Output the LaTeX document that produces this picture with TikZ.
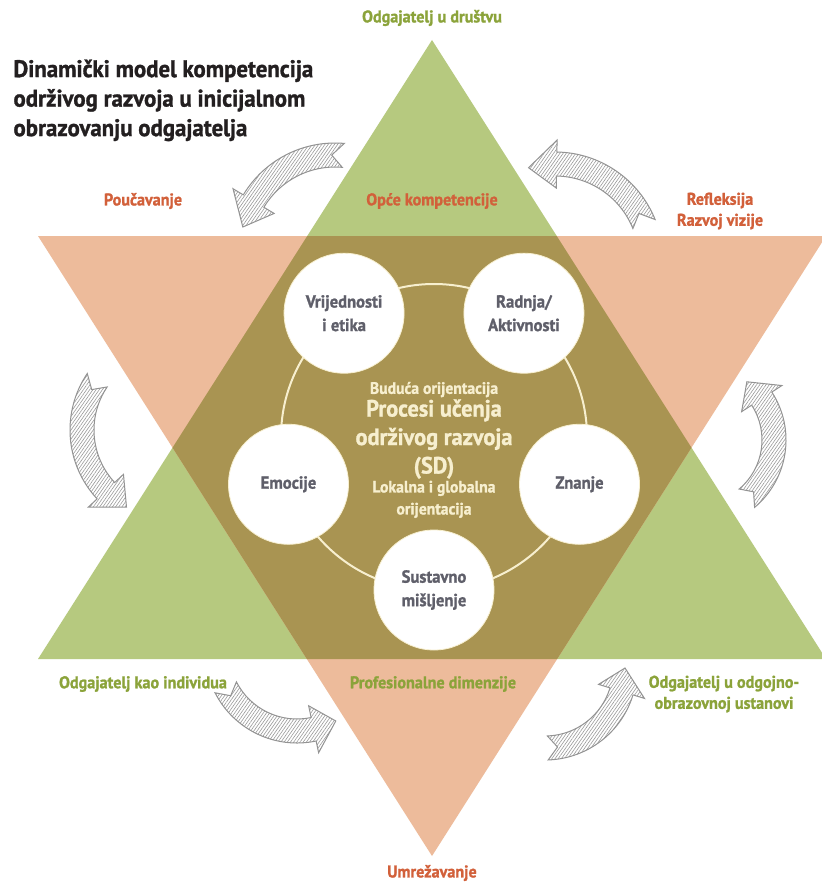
\documentclass[tikz,border=0pt]{standalone}
\usepackage{fontspec}
\setmainfont{PT Sans}[BoldFont={PT Sans Bold}, FakeStretch=0.95, BoldFeatures={FakeBold=1.2}]
\usetikzlibrary{positioning,patterns.meta}

\definecolor{zelena}{HTML}{B6C97F}
\definecolor{breskva}{HTML}{EDBB9B}
\definecolor{maslina}{HTML}{A99452}
\definecolor{zelenitekst}{HTML}{8BA33A}
\definecolor{narancasti}{HTML}{D2603A}
\definecolor{sivitekst}{HTML}{5F5F6A}
\definecolor{krem}{HTML}{F7EFCF}
\definecolor{naslovna}{HTML}{231F20}

% x, y srediste luka, polumjer, kut repa, kut vrha
\newcommand{\strelica}[5]{%
  \begin{scope}[shift={(#1,#2)}]
    \draw[srafura] ({#4}:{#3+12}) arc[start angle={#4}, end angle={#5+17}, radius={#3+12}]
      -- ({#5+17}:{#3+24}) -- ({#5}:{#3}) -- ({#5+17}:{#3-24}) -- ({#5+17}:{#3-12})
      arc[start angle={#5+17}, end angle={#4}, radius={#3-12}] -- ({#4-7}:{#3}) -- cycle;
  \end{scope}}

\begin{document}
\begin{tikzpicture}[x=1pt, y=-1pt,
    krug/.style={circle, fill=white, draw=krem, line width=0.8pt, minimum size=120,
      inner sep=0pt, align=center, text=sivitekst, font=\fontsize{17.5}{23.5}\selectfont\bfseries},
    oznaka/.style={align=center, font=\fontsize{17}{21}\selectfont\bfseries},
    sredina/.style={align=center, text=krem, font=\fontsize{16.5}{22}\selectfont\bfseries},
    srafura/.style={draw=gray!85, line width=1pt, preaction={fill=white},
      pattern={Lines[angle=55, distance=2.6pt, line width=0.6pt]}, pattern color=gray!80}]
    \useasboundingbox (0,0) rectangle (821,885);
    \fill[white] (0,0) rectangle (821,885);

    \fill[zelena] (432,40) -- (38,659) -- (826,659) -- cycle;
    \fill[breskva] (38,236) -- (826,236) -- (432,856) -- cycle;
    \begin{scope}
        \clip (432,40) -- (38,659) -- (826,659) -- cycle;
        \fill[maslina] (38,236) -- (826,236) -- (432,856) -- cycle;
    \end{scope}

    \coordinate (centar) at (434,437);
    \draw[krem, line width=2pt] (centar) circle[radius=153];

    \node (vrijednosti) [krug] at ([shift={(234:153)}]centar) {Vrijednosti\\i etika};
    \node (radnja) [krug] at ([shift={(306:153)}]centar) {Radnja/\\Aktivnosti};
    \node (znanje) [krug] at ([shift={(18:153)}]centar) {Znanje};
    \node (sustavno) [krug] at ([shift={(90:153)}]centar) {Sustavno\\mišljenje};
    \node (emocije) [krug] at ([shift={(162:153)}]centar) {Emocije};

    \node (procesi) [align=center, text=krem, font=\fontsize{23.5}{28.5}\selectfont\bfseries] at (434,439)
        {Procesi učenja\\održivog razvoja\\(SD)};
    \node (buduca) [above=-5pt of procesi, sredina] {Buduća orijentacija};
    \node (lokalna) [below=-5pt of procesi, sredina] {Lokalna i globalna\\orijentacija};

    \node (naslov) [anchor=north west, align=left, text=naslovna,
        font=\fontsize{24}{29.5}\selectfont\bfseries] at (10,56)
        {Dinamički model kompetencija\\održivog razvoja u inicijalnom\\obrazovanju odgajatelja};

    \node (drustvo) [oznaka, text=zelenitekst] at (432,18) {Odgajatelj u društvu};
    \node (opce) [oznaka, text=narancasti] at (432,201) {Opće kompetencije};
    \node (poucavanje) [oznaka, text=narancasti] at (143,201) {Poučavanje};
    \node (refleksija) [oznaka, text=narancasti] at (720,211) {Refleksija\\Razvoj vizije};
    \node (individua) [oznaka, text=zelenitekst] at (143,684) {Odgajatelj kao individua};
    \node (profesionalne) [oznaka, text=zelenitekst] at (433,684) {Profesionalne dimenzije};
    \node (ustanova) [oznaka, text=zelenitekst] at (724,694) {Odgajatelj u odgojno-\\obrazovnoj ustanovi};
    \node (umrezavanje) [oznaka, text=narancasti] at (432,873) {Umrežavanje};

    \strelica{335}{250}{95}{-85}{-166}
    \strelica{555}{260}{96}{-22}{-106}
    \strelica{171}{430}{89}{214}{120}
    \strelica{698}{440}{76}{50}{-50}
    \strelica{297}{651}{80}{153}{61}
    \strelica{545}{668}{80}{88}{0}
\end{tikzpicture}
\end{document}
